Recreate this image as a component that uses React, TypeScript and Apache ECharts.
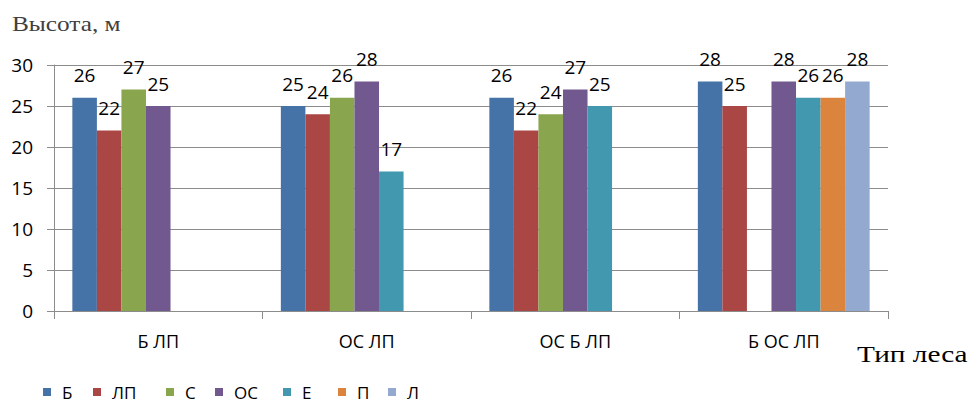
import React, { useEffect, useRef } from "react";
import * as echarts from "echarts";

const categories = ["Б ЛП", "ОС ЛП", "ОС Б ЛП", "Б ОС ЛП"];
const seriesNames = ["Б", "ЛП", "С", "ОС", "Е", "П", "Л"];
const seriesColors = ["#4572A7", "#AA4643", "#89A54E", "#71588F", "#4198AF", "#DB843D", "#93A9CF"];
const valuesB = [26, 25, 26, 28];
const valuesLP = [22, 24, 22, 25];
const valuesS = [27, 26, 24, null];
const valuesOS = [25, 28, 27, 28];
const valuesE = [null, 17, 25, 26];
const valuesP = [null, null, null, 26];
const valuesL = [null, null, null, 28];
const seriesValues = [valuesB, valuesLP, valuesS, valuesOS, valuesE, valuesP, valuesL];
const yTicks = [0, 5, 10, 15, 20, 25, 30];
const yTitle = "Высота, м";
const xTitle = "Тип леса";
const legendLefts = [43, 93, 166, 215, 283, 338, 388];

export default function App() {
  const ref = useRef<HTMLDivElement>(null);
  useEffect(() => {
    if (!ref.current) return;
    const chart = echarts.init(ref.current, null, { renderer: "svg" });
    const font = "'Open Sans', sans-serif";
    chart.setOption({
      animation: false,
      backgroundColor: "#ffffff",
      grid: { left: 54, right: 90, top: 65, bottom: 92, containLabel: false },
      legend: seriesNames.map((n, i) => ({
        data: [n],
        left: legendLefts[i],
        top: 383,
        itemWidth: 8,
        itemHeight: 8,
        icon: "rect",
        padding: 0,
        textStyle: { fontFamily: font, fontSize: 17, lineHeight: 18, color: "#000", padding: [0, 0, 0, 6] },
      })),
      xAxis: {
        type: "category",
        data: categories,
        axisLine: { lineStyle: { color: "#8c8c8c", width: 1 } },
        axisTick: { show: true, length: 8, lineStyle: { color: "#8c8c8c" } },
        axisLabel: { fontFamily: font, fontSize: 18, color: "#000", margin: 21 },
      },
      yAxis: {
        type: "value",
        min: 0,
        max: 30,
        interval: 5,
        axisLine: { show: true, lineStyle: { color: "#8c8c8c", width: 1 } },
        axisTick: { show: true, length: 7, lineStyle: { color: "#8c8c8c" } },
        axisLabel: {
          fontFamily: font,
          fontSize: 19,
          color: "#000",
          margin: 21,
          formatter: (v: number) => (yTicks.includes(v) ? String(v) : ""),
        },
        splitLine: { show: true, lineStyle: { color: "#8c8c8c", width: 1 } },
      },
      series: seriesNames.map((n, i) => ({
        name: n,
        type: "bar",
        data: seriesValues[i],
        barGap: "0%",
        barCategoryGap: "17.6%",
        itemStyle: { color: seriesColors[i] },
        label: {
          show: true,
          position: "top",
          distance: 13,
          fontFamily: font,
          fontSize: 19,
          color: "#000",
        },
      })),
      graphic: [
        {
          type: "text",
          x: 12,
          y: 13,
          scaleX: 1.15,
          style: { text: yTitle, font: "22px 'Liberation Serif', serif", fill: "#404040" },
        },
        {
          type: "text",
          x: 857,
          y: 342,
          scaleX: 1.22,
          style: { text: xTitle, font: "24px 'Liberation Serif', serif", fill: "#000" },
        },
      ],
    });
    return () => chart.dispose();
  }, []);
  return <div ref={ref} style={{ width: 978, height: 403, position: "absolute", left: 0, top: 0 }} />;
}
